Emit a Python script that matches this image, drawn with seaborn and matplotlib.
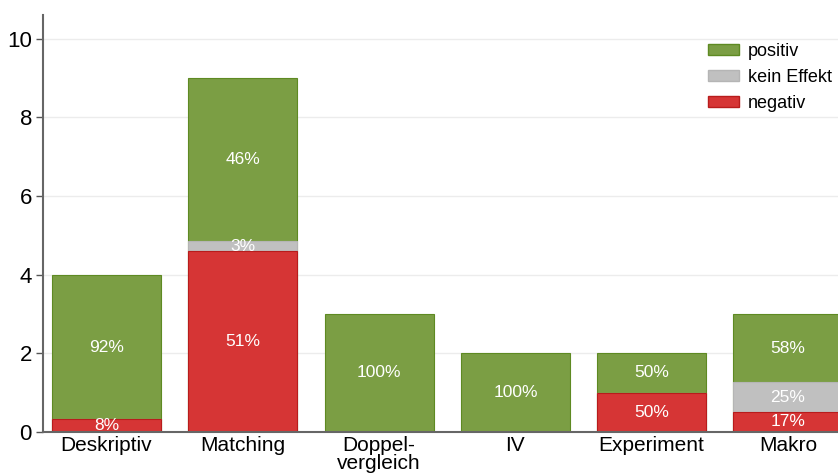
import matplotlib
matplotlib.use("Agg")
import matplotlib.pyplot as plt
import matplotlib.patches as mpatches
import seaborn as sns
import pandas as pd
import numpy as np

categories = ["Deskriptiv", "Matching", "Doppel-\nvergleich", "IV", "Experiment", "Makro"]
totals = [4, 9, 3, 2, 2, 3]
pct_negativ = [8, 51, 0, 0, 50, 17]
pct_kein = [0, 3, 0, 0, 0, 25]
pct_positiv = [92, 46, 100, 100, 50, 58]

clr_pos = "#7b9e44"
clr_kein = "#c0c0c0"
clr_neg = "#d63535"
edge_pos = "#5e8a22"
edge_kein = "#b5b5b5"
edge_neg = "#b81c1c"

tot = np.array(totals, dtype=float)
neg = tot * np.array(pct_negativ) / 100
kein = tot * np.array(pct_kein) / 100
pos = tot * np.array(pct_positiv) / 100

df = pd.DataFrame({"cat": categories, "total": tot, "negkein": neg + kein, "neg": neg})

sns.set_style("white")
plt.rcParams["font.family"] = ["Liberation Sans", "DejaVu Sans"]
plt.rcParams["text.color"] = "black"
plt.rcParams["xtick.labelcolor"] = "black"
plt.rcParams["ytick.labelcolor"] = "black"

fig = plt.figure(figsize=(8.38, 4.75), dpi=100)
ax = fig.add_axes([43 / 838, 43 / 475, 795 / 838, 417 / 475])

# stack by overdrawing: full height first, then the lower segments
sns.barplot(data=df, x="cat", y="total", order=categories, color=clr_pos,
            saturation=1, width=0.8, edgecolor=edge_pos, linewidth=0.8,
            errorbar=None, ax=ax, zorder=2)
sns.barplot(data=df, x="cat", y="negkein", order=categories, color=clr_kein,
            saturation=1, width=0.8, edgecolor=edge_kein, linewidth=0.8,
            errorbar=None, ax=ax, zorder=2)
sns.barplot(data=df, x="cat", y="neg", order=categories, color=clr_neg,
            saturation=1, width=0.8, edgecolor=edge_neg, linewidth=0.8,
            errorbar=None, ax=ax, zorder=2)

# percentage labels in each segment
for i in range(len(categories)):
    segs = [(0, neg[i], pct_negativ[i]),
            (neg[i], kein[i], pct_kein[i]),
            (neg[i] + kein[i], pos[i], pct_positiv[i])]
    for b, h, p in segs:
        if p > 0:
            ax.text(i, b + h / 2, "{}%".format(p), ha="center", va="center",
                    color="white", fontsize=12.5, zorder=5)

ax.set_xlim(-0.466, 5.367)
ax.set_ylim(0, 10.6)
ax.set_yticks([0, 2, 4, 6, 8, 10])
ax.yaxis.grid(True, color="#ececec", linewidth=1, zorder=0)
ax.set_axisbelow(True)
ax.set_xlabel("")
ax.set_ylabel("")
ax.tick_params(axis="y", labelsize=16, length=5, width=1, color="#555555", left=True, pad=3)
ax.tick_params(axis="x", labelsize=15, length=0, pad=3)
for lbl in ax.get_xticklabels():
    lbl.set_linespacing(0.9)
for s in ["top", "right"]:
    ax.spines[s].set_visible(False)
ax.spines["left"].set_color("#666666")
ax.spines["left"].set_linewidth(1.5)
ax.spines["bottom"].set_color("#666666")
ax.spines["bottom"].set_linewidth(1.5)
ax.spines["bottom"].set_zorder(4)

handles = [mpatches.Patch(facecolor=clr_pos, edgecolor=edge_pos, label="positiv"),
           mpatches.Patch(facecolor=clr_kein, edgecolor=edge_kein, label="kein Effekt"),
           mpatches.Patch(facecolor=clr_neg, edgecolor=edge_neg, label="negativ")]
fig.legend(handles=handles, loc="upper left", bbox_to_anchor=(708 / 838, 1 - 43 / 475),
           frameon=False, fontsize=13, handlelength=1.7, handleheight=0.5,
           labelspacing=0.5, handletextpad=0.5, borderaxespad=0, borderpad=0)

fig.savefig("out.png", dpi=100)
